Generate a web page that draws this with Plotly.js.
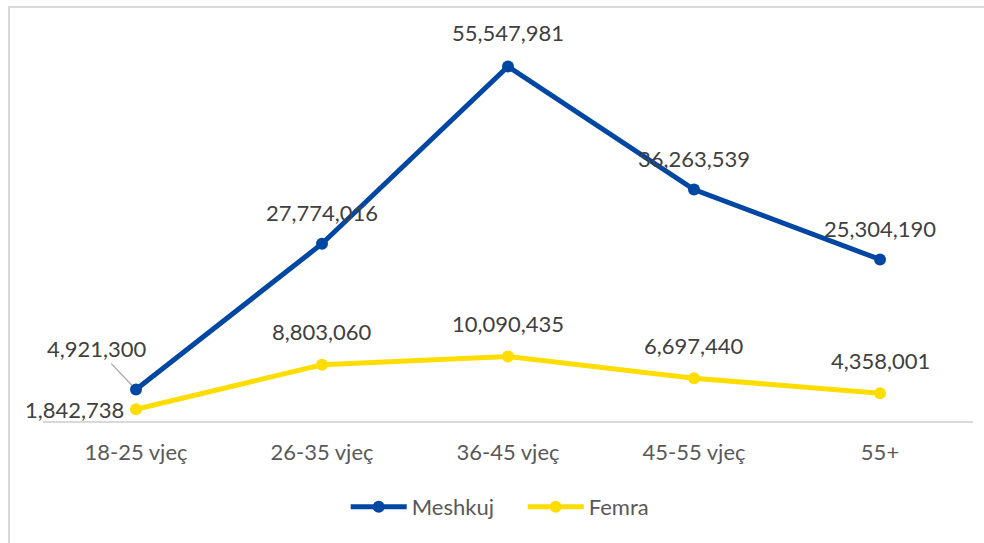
<!DOCTYPE html>
<html>
<head>
<meta charset="utf-8">
<script src="https://cdn.plot.ly/plotly-3.0.1.min.js"></script>
<style>
  body { margin: 0; background: #fff; overflow: hidden; }
  #frame { position: absolute; left: 8px; top: 6px; width: 1000px; height: 560px; border: 2px solid #d9d9d9; box-sizing: border-box; }
  #chart { position: absolute; left: 0; top: 0; width: 984px; height: 543px; }
</style>
</head>
<body>
<div id="frame"></div>
<div id="chart"></div>
<script>
const categories = ["18-25 vjeç", "26-35 vjeç", "36-45 vjeç", "45-55 vjeç", "55+"];
const meshkuj = [4921300, 27774016, 55547981, 36263539, 25304190];
const femra = [1842738, 8803060, 10090435, 6697440, 4358001];
const seriesNames = ["Meshkuj", "Femra"];

const BLUE = "#0047A3";
const YELLOW = "#FFDD00";
const FONT = "Lato, 'Open Sans', sans-serif";
const FS = 22;

function fmt(v) { return v.toLocaleString("en-US"); }

const traces = [
  { x: categories, y: meshkuj, name: seriesNames[0], type: "scatter", mode: "lines+markers",
    line: { color: BLUE, width: 5 }, marker: { color: BLUE, size: 12 } },
  { x: categories, y: femra, name: seriesNames[1], type: "scatter", mode: "lines+markers",
    line: { color: YELLOW, width: 5 }, marker: { color: YELLOW, size: 12 } }
];

const annotations = [];
meshkuj.forEach((v, i) => {
  if (i === 0) {
    annotations.push({ x: categories[i], y: v, text: fmt(v), showarrow: true, arrowhead: 0,
      arrowwidth: 1.2, arrowcolor: "#a6a6a6", ax: -39, ay: -41, standoff: 6,
      font: { family: FONT, size: FS, color: "#404040" } });
  } else {
    annotations.push({ x: categories[i], y: v, text: fmt(v), showarrow: false,
      yshift: i === 2 ? 34 : 31, font: { family: FONT, size: FS, color: "#404040" } });
  }
});
femra.forEach((v, i) => {
  if (i === 0) {
    annotations.push({ x: categories[i], y: v, text: fmt(v), showarrow: false,
      xanchor: "right", xshift: -10, font: { family: FONT, size: FS, color: "#404040" } });
  } else {
    annotations.push({ x: categories[i], y: v, text: fmt(v), showarrow: false,
      yshift: 33, font: { family: FONT, size: FS, color: "#404040" } });
  }
});

const layout = {
  width: 984, height: 543,
  margin: { l: 43, r: 11, t: 38, b: 122 },
  paper_bgcolor: "rgba(0,0,0,0)", plot_bgcolor: "rgba(0,0,0,0)",
  font: { family: FONT, size: FS, color: "#595959" },
  xaxis: { type: "category", range: [-0.5, 4.5], showline: true, linecolor: "#d9d9d9", linewidth: 1.5,
    showgrid: false, zeroline: false, ticks: "", ticklabelstandoff: 11,
    tickfont: { family: FONT, size: FS, color: "#595959" } },
  yaxis: { range: [0, 60000000], visible: false, showgrid: false, zeroline: false, fixedrange: true },
  showlegend: true,
  legend: { orientation: "h", x: 0.3255, xanchor: "left", y: -0.2245, yanchor: "middle",
    itemwidth: 56, entrywidth: 106, font: { family: FONT, size: FS, color: "#595959" }, bgcolor: "rgba(0,0,0,0)" },
  annotations: annotations
};

Plotly.newPlot("chart", traces, layout, { displayModeBar: false, staticPlot: true });
</script>
</body>
</html>
